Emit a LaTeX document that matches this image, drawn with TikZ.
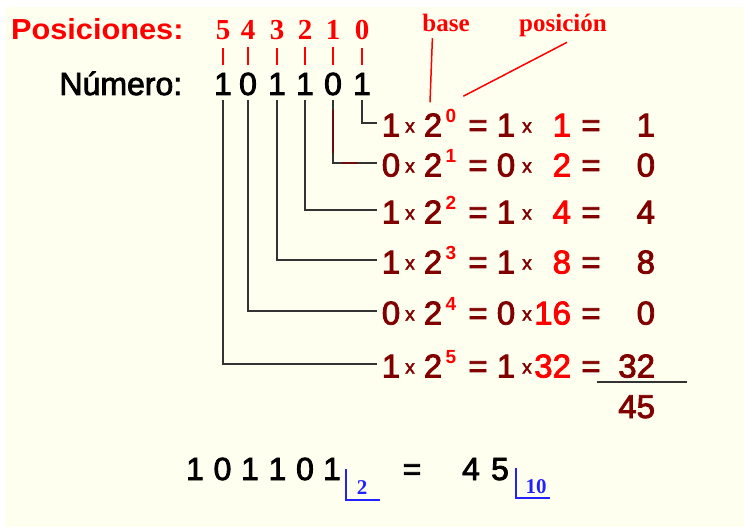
\documentclass[tikz,border=0pt]{standalone}
\usepackage{fontspec}
\setmainfont{Liberation Sans}
\newfontfamily\serifbf{Liberation Serif}
\newfontfamily\medsans[FakeBold=2.5]{Liberation Sans}
\usetikzlibrary{calc}
\definecolor{cream}{HTML}{FFFFF0}
\definecolor{dred}{HTML}{800000}
\definecolor{bred}{HTML}{FF0000}
\definecolor{lgray}{HTML}{333333}
\definecolor{bblue}{HTML}{2222FF}
\begin{document}
\begin{tikzpicture}[x=1pt,y=-1pt,
  every node/.style={inner sep=0pt,outer sep=0pt},
  big/.style={font=\fontsize{32}{32}\selectfont\medsans},
  rowtxt/.style={font=\fontsize{33}{33}\selectfont\medsans,text=dred,anchor=base},
  smallx/.style={font=\fontsize{19}{19}\selectfont\medsans,text=dred,anchor=base},
  suptxt/.style={font=\fontsize{19}{19}\selectfont\bfseries,text=bred,anchor=base},
  posdig/.style={font=\fontsize{29}{29}\selectfont\serifbf\bfseries,text=bred,anchor=base},
  lbl/.style={font=\fontsize{25}{25}\selectfont\serifbf\bfseries,text=bred,anchor=base},
  sub/.style={font=\fontsize{21}{21}\selectfont\serifbf\bfseries,text=bblue,anchor=base},
  conn/.style={draw=lgray,line width=1.8pt},
  tick/.style={draw=bred,line width=1.8pt},
  redline/.style={draw=bred,line width=1.5pt},
  bluebr/.style={draw=bblue,line width=1.6pt}]
\useasboundingbox (0,0) rectangle (744,527);
\fill[white] (0,0) rectangle (744,527);
\fill[cream] (5,7) rectangle (744,527);

% headers
\node[font=\fontsize{29}{29}\selectfont\bfseries,text=bred,anchor=base west] (posl) at (11,39.5) {\scalebox{1.06}[1]{Posiciones:}};
\node[big,anchor=base west] (numl) at (59.5,95) {Número:};

% position digits and number digits
\foreach \k/\x in {5/223,4/248,3/277,2/305,1/333,0/362}{
  \node[posdig] (p\k) at (\x,39.5) {\k};
}
\foreach \k/\x/\d in {5/223/1,4/248/0,3/277/1,2/305/1,1/333/0,0/362/1}{
  \node[big,anchor=base] (n\k) at (\x,95) {\d};
  \draw[tick] ([yshift=-8pt]p\k.south) -- ([yshift=8pt]n\k.north);
}

% rows
\foreach \k/\bit/\val/\res/\B in {0/1/1/1/136.5,1/0/2/0/176.5,2/1/4/4/223.5,3/1/8/8/273.5,4/0/16/0/324.5,5/1/32/32/377.5}{
  \node[rowtxt] (b\k) at (391,\B) {\bit};
  \node[smallx] (xa\k) at (410,\B-4) {x};
  \node[rowtxt] (t\k) at (433,\B) {2};
  \node[suptxt] (s\k) at (451,\B-14) {\k};
  \node[rowtxt] (ea\k) at (478,\B) {=};
  \node[rowtxt] (c\k) at (506,\B) {\bit};
  \node[smallx] (xb\k) at (527,\B-4) {x};
  \node[rowtxt,text=bred,anchor=base east] (v\k) at (571,\B) {\val};
  \node[rowtxt] (eb\k) at (591,\B) {=};
  \node[rowtxt,anchor=base east] (r\k) at (655,\B) {\res};
  \draw[conn] ([yshift=-5pt]n\k.south) |- ([xshift=-5pt,yshift=2pt]b\k.west);
}
% reddish part of the connector of position 1
\draw[draw=dred!80!lgray,line width=1.8pt] ($(n1.south)+(0,15)$) -- ($(n1.south)+(0,58)$);
\draw[draw=dred!80!lgray,line width=1.8pt] ($(b1.west)+(-40,-2)$) -- ($(b1.west)+(-24,-2)$);

% sum
\coordinate (sumL) at (597,382);
\coordinate (sumR) at (687,382);
\draw[conn,line width=1.5pt] (sumL) -- (sumR);
\node[rowtxt,anchor=base east] (tot) at (655,418) {45};

% labels base / posicion
\node[lbl] (base) at (446,32) {base};
\node[lbl] (posi) at (563,32) {posición};
\draw[redline] ($(base.south west)+(10,6)$) -- ($(t0.north)+(-3,-11)$);
\draw[redline] ($(posi.south)+(4,5)$) -- ($(s0.north east)+(7,-13)$);

% bottom equation
\foreach \i/\x/\d in {1/195/1,2/222.5/0,3/250/1,4/277.5/1,5/305/0,6/332/1}{
  \node[big,anchor=base] (d\i) at (\x,480) {\d};
}
\node[big,anchor=base] (beq) at (412,480) {=};
\node[big,anchor=base] (f4) at (471,480) {4};
\node[big,anchor=base] (f5) at (500,480) {5};
\node[sub] (sb2) at (362,494) {2};
\node[sub] (sb10) at (536,493) {10};
\coordinate (bra) at (346,469);
\coordinate (brb) at (380,500);
\coordinate (brc) at (516,468);
\coordinate (brd) at (550,498);
\draw[bluebr] (bra) |- (brb);
\draw[bluebr] (brc) |- (brd);
\end{tikzpicture}
\end{document}
